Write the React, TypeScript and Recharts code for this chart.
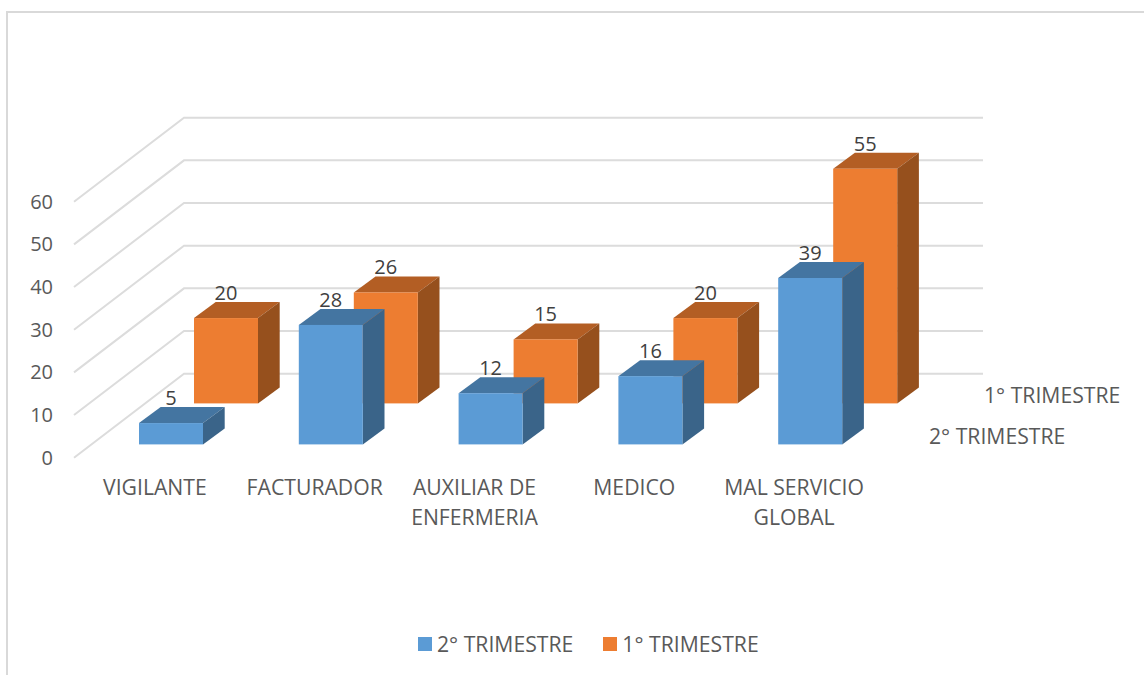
import { BarChart, Bar, XAxis, YAxis, CartesianGrid, Legend, Customized } from 'recharts'

const categories = ['VIGILANTE', 'FACTURADOR', 'AUXILIAR DE\nENFERMERIA', 'MEDICO', 'MAL SERVICIO\nGLOBAL']
const trimestre2 = [5, 28, 12, 16, 39]
const trimestre1 = [20, 26, 15, 20, 55]
const yTicks = [0, 10, 20, 30, 40, 50, 60]

const rows = categories.map((name, i) => ({ name, t2: trimestre2[i], t1: trimestre1[i] }))

const FONT = '"Open Sans", sans-serif'
const FONT_SIZE = 21.2
const DIGIT_SIZE = 20
const TEXT = '#595959'

// wall depth of the fake 3D box
const WALL_DX = 110
const WALL_DY = 84
// how far each row of bars sits from the front of the floor
const FRONT = { dx: 17, dy: -13.3 }
const BACK = { dx: 72, dy: -54.3 }
// bar box depth
const BOX_DX = 21.7
const BOX_DY = 16

const BLUE = { face: '#5b9bd5', top: '#4475a1', side: '#3a6489' }
const ORANGE = { face: '#ed7d31', top: '#b35e24', side: '#96501d' }

function box(pos: { dx: number; dy: number }, c: { face: string; top: string; side: string }) {
  return (p: any) => {
    const x = p.x + pos.dx
    const y = p.y + pos.dy
    const w = p.width
    const h = p.height
    return (
      <g>
        <path
          d={`M${x},${y} L${x + BOX_DX},${y - BOX_DY} L${x + w + BOX_DX},${y - BOX_DY} L${x + w},${y} Z`}
          fill={c.top}
        />
        <path
          d={`M${x + w},${y} L${x + w + BOX_DX},${y - BOX_DY} L${x + w + BOX_DX},${y + h - BOX_DY} L${x + w},${y + h} Z`}
          fill={c.side}
        />
        <rect x={x} y={y} width={w} height={h} fill={c.face} />
      </g>
    )
  }
}

function valueLabel(pos: { dx: number; dy: number }) {
  return (p: any) => (
    <text
      x={p.x + pos.dx + p.width / 2}
      y={p.y + pos.dy - 25.5}
      textAnchor="middle"
      dominantBaseline="central"
      fontFamily={FONT}
      fontSize={DIGIT_SIZE}
      fill="#404040"
    >
      {p.value}
    </text>
  )
}

// grid line running up the side wall and then along the back wall
function wallLine(p: any) {
  const backY = p.y1 - WALL_DY
  return (
    <path
      key={p.key ?? p.y1}
      d={`M${p.x1},${p.y1} L${p.x1 + WALL_DX},${backY} L${p.x2 + WALL_DX},${backY}`}
      fill="none"
      stroke="#dcdcdc"
      strokeWidth={2}
    />
  )
}

function CategoryTick(p: any) {
  const lines = String(p.payload.value).split('\n')
  return (
    <g>
      {lines.map((line, i) => (
        <text
          key={line}
          x={p.x + 1}
          y={486.5 + i * 30}
          textAnchor="middle"
          dominantBaseline="central"
          fontFamily={FONT}
          fontSize={FONT_SIZE}
          fill={TEXT}
        >
          {line}
        </text>
      ))}
    </g>
  )
}

function DepthLabels() {
  return (
    <g fontFamily={FONT} fontSize={FONT_SIZE} fill={TEXT}>
      <text x={984} y={394.5} dominantBaseline="central">1° TRIMESTRE</text>
      <text x={929} y={435.5} dominantBaseline="central">2° TRIMESTRE</text>
    </g>
  )
}

function LegendRow() {
  const items = [
    { label: '2° TRIMESTRE', color: BLUE.face },
    { label: '1° TRIMESTRE', color: ORANGE.face },
  ]
  return (
    <div style={{ display: 'flex', gap: 30, fontFamily: FONT, fontSize: FONT_SIZE, color: TEXT, lineHeight: '30px' }}>
      {items.map((it) => (
        <div key={it.label} style={{ display: 'flex', alignItems: 'center', gap: 5, whiteSpace: 'nowrap' }}>
          <span style={{ width: 14, height: 14, background: it.color, display: 'inline-block' }} />
          {it.label}
        </div>
      ))}
    </div>
  )
}

export default function App() {
  return (
    <div style={{ position: 'absolute', left: 0, top: 0, width: 1144, height: 675, overflow: 'hidden', background: '#fff' }}>
      <div
        style={{
          position: 'absolute',
          left: 6,
          top: 11,
          width: 1144,
          height: 700,
          borderLeft: '2px solid #d9d9d9',
          borderTop: '2px solid #d9d9d9',
        }}
      />
      <BarChart
        width={1144}
        height={675}
        data={rows}
        barSize={64}
        barGap={-64}
        margin={{ top: 201.7, right: 271, bottom: 117.3, left: 24 }}
        style={{ position: 'absolute', left: 0, top: 0 }}
      >
        <CartesianGrid vertical={false} horizontal={wallLine} />
        <XAxis dataKey="name" height={60} axisLine={false} tickLine={false} interval={0} tick={<CategoryTick />} />
        <YAxis
          width={50}
          domain={[0, 60]}
          ticks={yTicks}
          axisLine={false}
          tickLine={false}
          tickSize={0}
          tickMargin={21}
          tick={{ fontFamily: FONT, fontSize: DIGIT_SIZE, fill: TEXT }}
        />
        <Bar dataKey="t1" fill={ORANGE.face} isAnimationActive={false} shape={box(BACK, ORANGE)} label={valueLabel(BACK)} />
        <Bar dataKey="t2" fill={BLUE.face} isAnimationActive={false} shape={box(FRONT, BLUE)} label={valueLabel(FRONT)} />
        <Customized component={DepthLabels} />
        <Legend
          verticalAlign="bottom"
          height={40}
          content={<LegendRow />}
          wrapperStyle={{ left: 418, top: 629, bottom: 'auto', width: 400 }}
        />
      </BarChart>
    </div>
  )
}
